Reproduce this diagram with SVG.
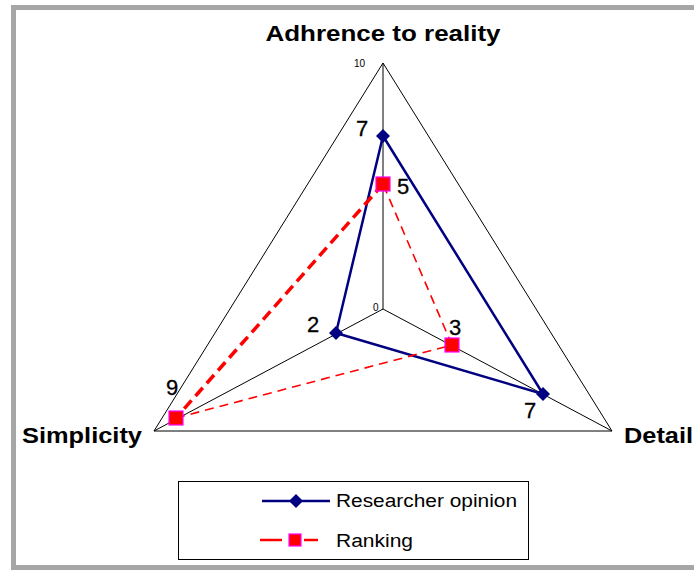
<svg xmlns="http://www.w3.org/2000/svg" width="694" height="570" viewBox="0 0 694 570">
<style>
.grid{fill:none;stroke:#000;stroke-width:1}
.axl{font-family:"Liberation Sans",Arial,sans-serif;font-weight:bold;font-size:22px;fill:#000}
.num{font-family:"Liberation Sans",Arial,sans-serif;font-size:22px;fill:#000;stroke:#000;stroke-width:0.3}
.tick{font-family:"Liberation Sans",Arial,sans-serif;font-size:10px;fill:#000}
.leg{font-family:"Liberation Sans",Arial,sans-serif;font-size:18px;fill:#000}
.blue{fill:none;stroke:#000080;stroke-width:2.5;stroke-linejoin:round}
.red{fill:none;stroke:#ff0000}
.dia{fill:#000080}
.sq{fill:#ff0000;stroke:#ff00ff;stroke-width:1.2}
</style>
<rect x="13.5" y="7.5" width="700" height="560" fill="#fff" stroke="#a6a6a6" stroke-width="5"/>
<g id="grid">
<polygon class="grid" points="383,63 612,431 154,431"/>
<line class="grid" x1="383" y1="309" x2="383" y2="63"/>
<line class="grid" x1="383" y1="309" x2="154" y2="431"/>
<line class="grid" x1="383" y1="309" x2="612" y2="431"/>
<text class="tick" x="354" y="67">10</text>
<text class="tick" x="373" y="311">0</text>
</g>
<g id="axis-labels">
<text id="adherence" class="axl" x="383" y="41" text-anchor="middle" textLength="235" lengthAdjust="spacingAndGlyphs">Adhrence to reality</text>
<text id="simplicity" class="axl" x="22" y="443" textLength="120" lengthAdjust="spacingAndGlyphs">Simplicity</text>
<text id="detail" class="axl" x="624" y="443" textLength="69" lengthAdjust="spacingAndGlyphs">Detail</text>
</g>
<g id="connectors">
<polygon class="blue" points="383,136 543,394 336,333"/>
<line class="red" x1="383" y1="184" x2="176" y2="418" stroke-width="3.5" stroke-dasharray="11,6"/>
<line class="red" x1="176" y1="418" x2="452" y2="345" stroke-width="1.6" stroke-dasharray="9,6"/>
<line class="red" x1="452" y1="345" x2="383" y2="184" stroke-width="1.6" stroke-dasharray="9,6"/>
</g>
<g id="researcher">
<polygon class="dia" points="383,129 390,136 383,143 376,136"/>
<polygon class="dia" points="543,387 550,394 543,401 536,394"/>
<polygon class="dia" points="336,326 343,333 336,340 329,333"/>
<text class="num" x="356" y="136">7</text>
<text class="num" x="307" y="332">2</text>
<text class="num" x="524" y="418">7</text>
</g>
<g id="ranking">
<rect class="sq" x="376" y="177" width="14" height="14"/>
<rect class="sq" x="169" y="411" width="14" height="14"/>
<rect class="sq" x="445" y="338" width="14" height="14"/>
<text class="num" x="397" y="194">5</text>
<text class="num" x="449" y="335">3</text>
<text class="num" x="166" y="395">9</text>
</g>
<g id="legend">
<rect x="178.5" y="481.5" width="350" height="78" fill="#fff" stroke="#000" stroke-width="1"/>
<line x1="262" y1="501" x2="330" y2="501" stroke="#000080" stroke-width="2.5"/>
<polygon class="dia" points="296,494 303,501 296,508 289,501"/>
<text class="leg" x="336" y="507" textLength="181" lengthAdjust="spacingAndGlyphs">Researcher opinion</text>
<line x1="260" y1="540" x2="282" y2="540" stroke="#ff0000" stroke-width="2.5"/>
<line x1="304" y1="540" x2="318" y2="540" stroke="#ff0000" stroke-width="2.5"/>
<rect class="sq" x="289" y="534" width="12" height="12"/>
<text class="leg" x="336" y="547" textLength="77" lengthAdjust="spacingAndGlyphs">Ranking</text>
</g>
</svg>
